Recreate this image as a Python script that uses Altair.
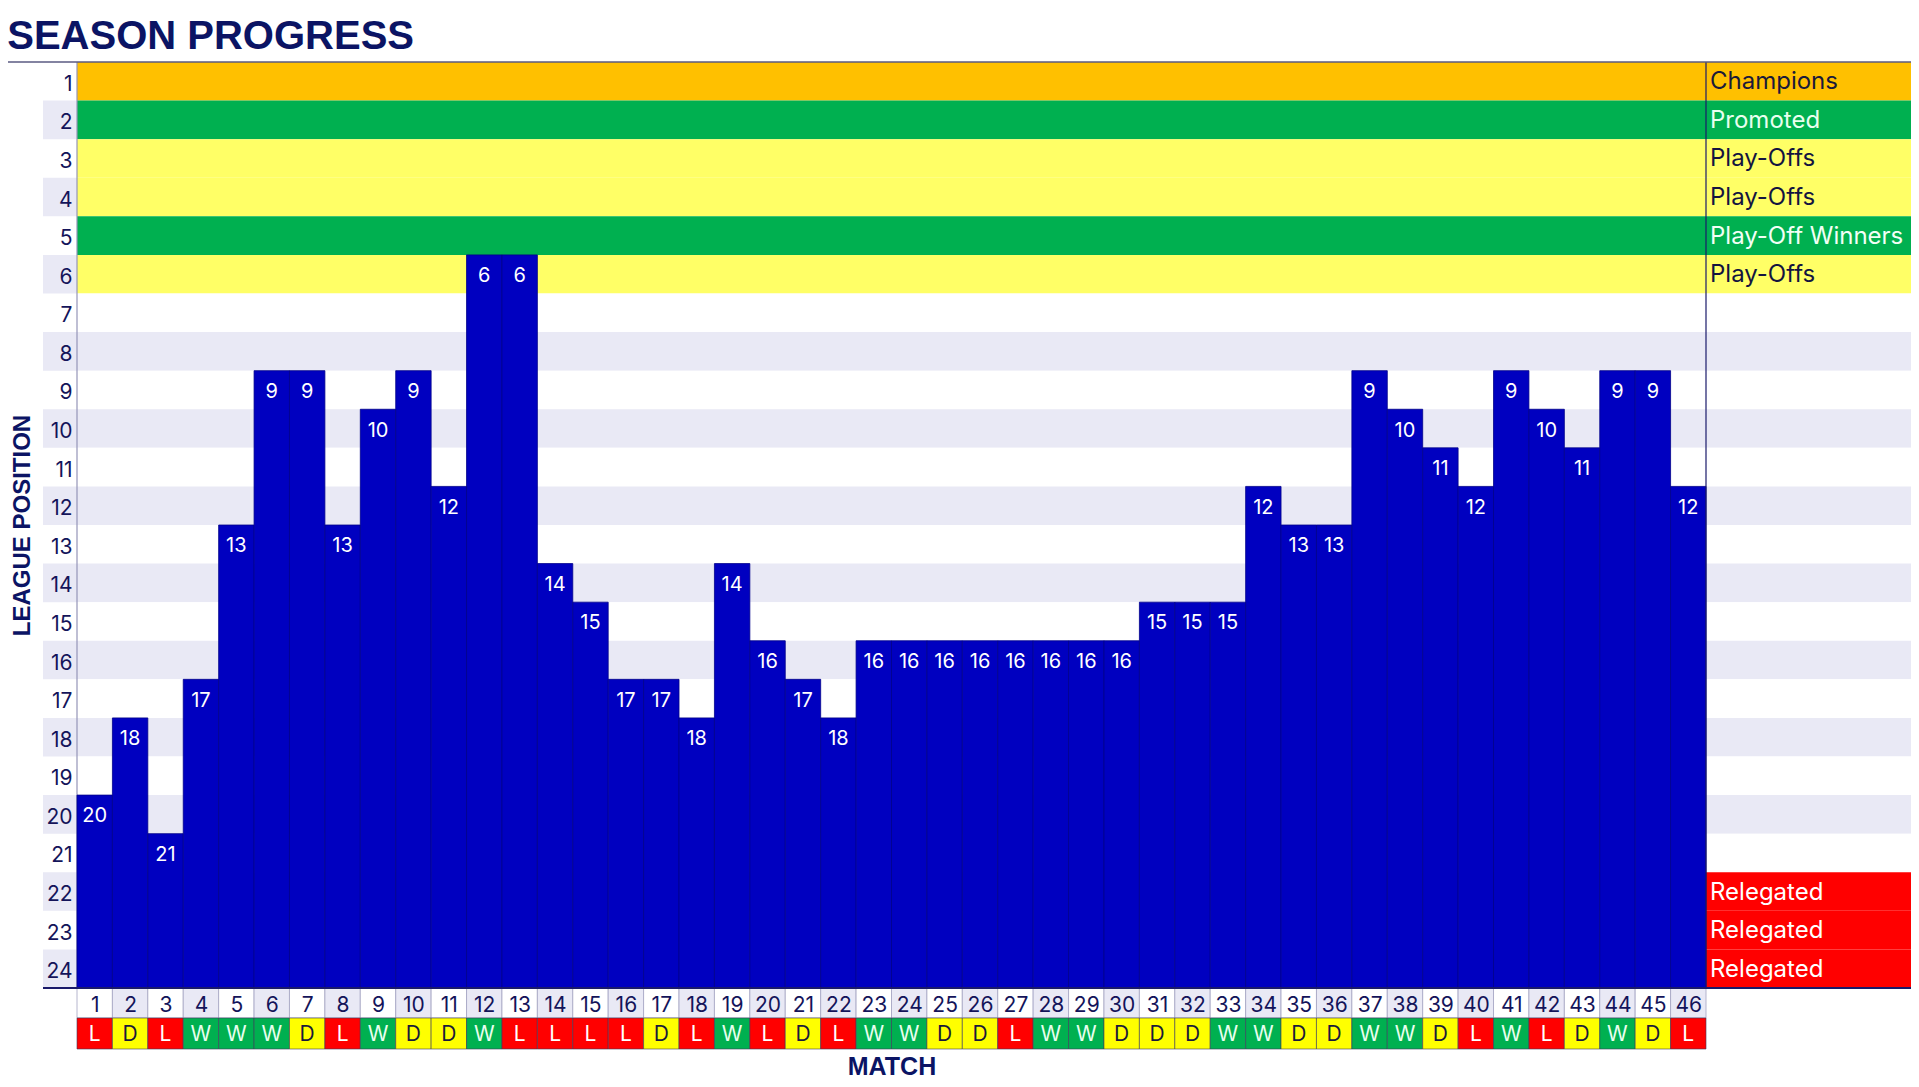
import altair as alt
import pandas as pd

# ---------------- data ----------------
matches = list(range(1, 47))
positions = [20, 18, 21, 17, 13, 9, 9, 13, 10, 9,
             12, 6, 6, 14, 15, 17, 17, 18, 14, 16,
             17, 18, 16, 16, 16, 16, 16, 16, 16, 16,
             15, 15, 15, 12, 13, 13, 9, 10, 11, 12,
             9, 10, 11, 9, 9, 12]
results = list("LDLWWWDLWD" "DWLLLLDLWL" "DLWWDDLWWD" "DDWWDDWWDL" "WLDWDL")
league_rows = list(range(1, 25))
zone_labels = (["Champions", "Promoted", "Play-Offs", "Play-Offs",
                "Play-Off Winners", "Play-Offs"] + [""] * 15 + ["Relegated"] * 3)

# ---------------- styles ----------------
FONT = "Inter"
TFONT = "Liberation Sans"
NAVY = "#14145A"
TITLE_C = "#0B1464"
LAV = "#E9E9F5"
WHITE = "#FFFFFF"
BAR = "#0000C0"
BAR_EDGE = "#00008A"
zone_fill = {"Champions": "#FFC000", "Promoted": "#00B050", "Play-Offs": "#FFFF66",
             "Play-Off Winners": "#00B050", "Relegated": "#FF0000"}
zone_text = {"Champions": "#1A1A3A", "Promoted": "#E8FFEF", "Play-Offs": "#141440",
             "Play-Off Winners": "#F2FFF6", "Relegated": "#FFFFFF"}
res_fill = {"W": "#00B050", "D": "#FFFF00", "L": "#FF0000"}
res_text = {"W": "#E8FFEF", "D": "#1A1A3A", "L": "#FFFFFF"}

PLOT_W, PLOT_H = 1629, 926
PAD_L, PAD_T, PAD_R, PAD_B = 69, 54, 205, 90

n = len(matches)
nrows = len(league_rows)
col_w = PLOT_W / n
row_h = PLOT_H / nrows
x_lo, x_hi = 0.5, n + 0.5
y_lo, y_hi = 0.5, nrows + 0.5
panel_end = x_hi + PAD_R / col_w
label_left = x_lo - 34 / col_w
page_left = x_lo - PAD_L / col_w
num_bot = y_hi + 30 / row_h
res_bot = num_bot + 31 / row_h

xs = alt.Scale(domain=[x_lo, x_hi], nice=False, zero=False)
ys = alt.Scale(domain=[y_lo, y_hi], nice=False, zero=False, reverse=True)

x_axis = alt.Axis(values=matches, format="d", title="MATCH", domain=False, grid=False,
                  ticks=False, tickSize=0, labelFont=FONT, labelFontSize=21,
                  labelColor=NAVY, labelPadding=17, labelBaseline="middle",
                  labelOverlap=False, labelFlush=False, zindex=2,
                  titleFont=TFONT, titleFontSize=25, titleFontWeight="bold",
                  titleColor=TITLE_C, titleX=PLOT_W / 2, titleY=78,
                  titleAlign="center", titleBaseline="middle")
y_axis = alt.Axis(values=league_rows, format="d", title="LEAGUE POSITION", domain=False,
                  grid=False, ticks=False, tickSize=0, labelFont=FONT, labelFontSize=21,
                  labelColor=NAVY, labelPadding=5, labelBaseline="middle", labelOffset=3,
                  labelOverlap=False, labelFlush=False, zindex=2,
                  titleFont=TFONT, titleFontSize=24, titleFontWeight="bold",
                  titleColor=TITLE_C, titleX=-55, titleY=PLOT_H / 2, titleAngle=270,
                  titleAlign="center", titleBaseline="middle")


def X(f):
    return alt.X(f, type="quantitative", scale=xs, axis=x_axis)


def Y(f):
    return alt.Y(f, type="quantitative", scale=ys, axis=y_axis)


def alt_fill(p):
    return LAV if p % 2 == 0 else WHITE


# ---------------- tables ----------------
bg_rows = []
for p, z in zip(league_rows, zone_labels):
    plot_fill = zone_fill[z] if (z and p <= 6) else alt_fill(p)
    panel_fill = zone_fill[z] if z else alt_fill(p)
    bg_rows.append(dict(x=x_lo, x2=x_hi, y=p - 0.5, y2=p + 0.5, fill=plot_fill))
    bg_rows.append(dict(x=x_hi, x2=panel_end, y=p - 0.5, y2=p + 0.5, fill=panel_fill))
    if p % 2 == 0:
        bg_rows.append(dict(x=label_left, x2=x_lo, y=p - 0.5, y2=p + 0.5, fill=LAV))
bg_df = pd.DataFrame(bg_rows)

bars_df = pd.DataFrame({
    "match": matches,
    "pos": positions,
    "x": [m - 0.5 for m in matches],
    "x2": [m + 0.5 for m in matches],
    "top": [p - 0.5 for p in positions],
    "bottom": [y_hi] * n,
    "label": [str(p) for p in positions],
})

zone_df = pd.DataFrame([
    dict(x=x_hi, y=p, text=z, tcolor=zone_text[z])
    for p, z in zip(league_rows, zone_labels) if z
])

num_df = pd.DataFrame({
    "x": [m - 0.5 for m in matches],
    "x2": [m + 0.5 for m in matches],
    "y": [y_hi] * n,
    "y2": [num_bot] * n,
    "fill": [alt_fill(m) for m in matches],
})

res_df = pd.DataFrame({
    "m": matches,
    "x": [m - 0.5 for m in matches],
    "x2": [m + 0.5 for m in matches],
    "y": [num_bot] * n,
    "y2": [res_bot] * n,
    "ymid": [(num_bot + res_bot) / 2] * n,
    "res": results,
    "fill": [res_fill[r] for r in results],
    "tcolor": [res_text[r] for r in results],
})

hlines_df = pd.DataFrame([
    dict(x=page_left, x2=panel_end, y=y_lo, c="#5A5A82", w=1.5),
    dict(x=label_left, x2=panel_end, y=y_hi, c="#1A1A6A", w=2.0),
])
left_line_df = pd.DataFrame([dict(x=x_lo, y=y_lo, y2=y_hi)])
sep_line_df = pd.DataFrame([dict(x=x_hi, y=y_lo, y2=y_hi)])

# ---------------- layers ----------------
bg = alt.Chart(bg_df).mark_rect().encode(
    x=X("x"), x2="x2", y=Y("y"), y2="y2", fill=alt.Fill("fill:N", scale=None))

left_line = alt.Chart(left_line_df).mark_rule(color="#9494B8", strokeWidth=1.2).encode(
    x=X("x"), y=Y("y"), y2="y2")

bars = alt.Chart(bars_df).mark_rect(fill=BAR, stroke=BAR_EDGE, strokeWidth=0.8).encode(
    x=X("x"), x2="x2", y=Y("top"), y2="bottom")

bar_labels = alt.Chart(bars_df).mark_text(
    color="white", font=FONT, fontSize=20, baseline="middle", dy=2).encode(
    x=X("match"), y=Y("pos"), text="label:N")

zone_text_layer = alt.Chart(zone_df).mark_text(
    align="left", baseline="middle", dx=4, dy=1, font=FONT, fontSize=24).encode(
    x=X("x"), y=Y("y"), text="text:N", color=alt.Color("tcolor:N", scale=None))

num_cells = alt.Chart(num_df).mark_rect(stroke="#A3A3C2", strokeWidth=0.8).encode(
    x=X("x"), x2="x2", y=Y("y"), y2="y2", fill=alt.Fill("fill:N", scale=None))

res_cells = alt.Chart(res_df).mark_rect(stroke="#3A3A5A", strokeWidth=0.6).encode(
    x=X("x"), x2="x2", y=Y("y"), y2="y2", fill=alt.Fill("fill:N", scale=None))

res_letters = alt.Chart(res_df).mark_text(
    font=FONT, fontSize=21, baseline="middle", dy=1).encode(
    x=X("m"), y=Y("ymid"), text="res:N", color=alt.Color("tcolor:N", scale=None))

hlines = alt.Chart(hlines_df).mark_rule().encode(
    x=X("x"), x2="x2", y=Y("y"),
    color=alt.Color("c:N", scale=None), strokeWidth=alt.StrokeWidth("w:Q", scale=None))

sep_line = alt.Chart(sep_line_df).mark_rule(color="#1A1A6A", strokeWidth=1.2).encode(
    x=X("x"), y=Y("y"), y2="y2")

chart = alt.layer(
    bg, left_line, bars, bar_labels, zone_text_layer, sep_line,
    num_cells, res_cells, res_letters, hlines
).properties(
    width=PLOT_W, height=PLOT_H,
    title=alt.TitleParams("SEASON PROGRESS", anchor="start", frame="bounds",
                          font=TFONT, fontSize=40, fontWeight="bold",
                          color=TITLE_C, offset=4),
    autosize=alt.AutoSizeParams(type="none"),
    padding={"left": PAD_L, "top": PAD_T, "right": PAD_R, "bottom": PAD_B},
).configure_view(stroke=None)

chart.save("out.html", embed_options={"renderer": "svg", "actions": False})
